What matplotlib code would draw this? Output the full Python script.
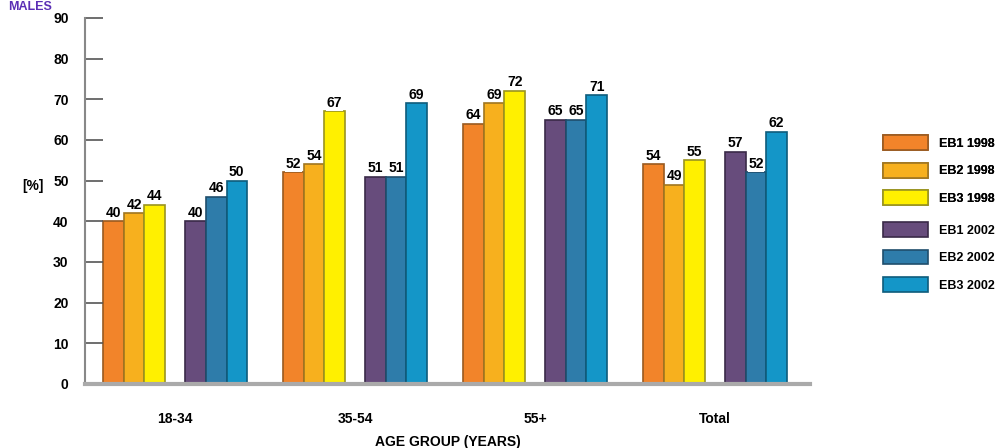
import numpy as np
import matplotlib.pyplot as plt

groups = ["18-34", "35-54", "55+", "Total"]
series = ["EB1 1998", "EB2 1998", "EB3 1998", "EB1 2002", "EB2 2002", "EB3 2002"]
eb1_1998 = [40, 52, 64, 54]
eb2_1998 = [42, 54, 69, 49]
eb3_1998 = [44, 67, 72, 55]
eb1_2002 = [40, 51, 65, 57]
eb2_2002 = [46, 51, 65, 52]
eb3_2002 = [50, 69, 71, 62]
values = [eb1_1998, eb2_1998, eb3_1998, eb1_2002, eb2_2002, eb3_2002]

colors = ["#F2842A", "#F7B01E", "#FFF000", "#674C7C", "#2E7CAA", "#1496C8"]
edges = ["#9A5A20", "#A07620", "#9A9420", "#3A2A48", "#1F4E6C", "#0E5C7C"]
slots = [-3, -2, -1, 1, 2, 3]

plt.rcParams["font.family"] = ["Liberation Sans Narrow", "Liberation Sans", "DejaVu Sans"]
plt.rcParams["font.weight"] = "bold"

fig = plt.figure(figsize=(10.03, 4.48), dpi=100)
ax = fig.add_axes([0.085, 0.143, 0.723, 0.817])

w = 0.114
x = np.arange(len(groups))
handles = []
for vals, name, c, ec, k in zip(values, series, colors, edges, slots):
    bars = ax.bar(x + k * w, vals, w, color=c, edgecolor=ec, linewidth=1.2, label=name)
    handles.append(bars)
    for xi, v in zip(x + k * w, vals):
        ax.text(xi, v + 0.4, str(v), ha="center", va="bottom", fontsize=10, fontweight="bold",
                bbox=dict(facecolor="white", edgecolor="none", pad=0.5))

ax.set_xlim(-0.5, 3.53)
ax.set_ylim(0, 90)
ax.set_yticks(range(0, 91, 10))
ax.set_xticks(x)
ax.set_xticklabels(groups, fontsize=10, fontweight="bold")
ax.tick_params(axis="y", direction="in", length=13, width=1.2, color="#555555", labelsize=10, pad=12)
ax.tick_params(axis="x", length=0, pad=20)
for s in ["top", "right"]:
    ax.spines[s].set_visible(False)
ax.spines["left"].set_color("#888888")
ax.spines["left"].set_linewidth(1.5)
ax.spines["bottom"].set_color("#AAAAAA")
ax.spines["bottom"].set_linewidth(3)
ax.set_xlabel("AGE GROUP (YEARS)", fontsize=10, fontweight="bold", labelpad=7)

fig.text(0.022, 0.585, "[%]", fontsize=10, fontweight="bold", va="center")
fig.text(0.008, 0.998, "MALES", fontsize=9, fontweight="bold", color="#5B2FB5", va="top")

leg_kw = dict(frameon=False, fontsize=9, handlelength=3.6, handleheight=1.45,
              labelspacing=1.0, handletextpad=0.9)
leg1 = fig.legend(handles[:3], series[:3], loc="upper left", bbox_to_anchor=(0.869, 0.723), **leg_kw)
fig.add_artist(leg1)
fig.legend(handles[3:], series[3:], loc="upper left", bbox_to_anchor=(0.869, 0.529), **leg_kw)

fig.savefig("out.png", dpi=100)
